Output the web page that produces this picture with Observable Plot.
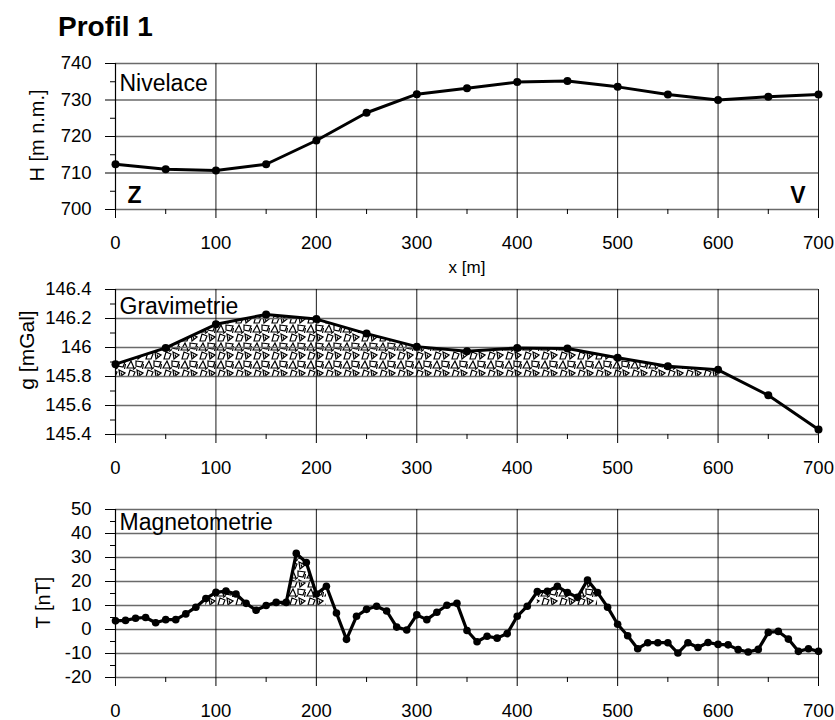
<!DOCTYPE html>
<html>
<head>
<meta charset="utf-8">
<script src="https://cdn.jsdelivr.net/npm/d3@7"></script>
<script src="https://cdn.jsdelivr.net/npm/@observablehq/plot@0.6"></script>
<style>
  html, body { margin: 0; padding: 0; background: #fff; }
  #chart { position: relative; width: 835px; height: 720px; background: #fff; font-family: "Liberation Sans", Arial, sans-serif; overflow: hidden; }
  #title { position: absolute; left: 58px; top: 13px; font-size: 28px; line-height: 28px; font-weight: bold; color: #000; }
  .panel { position: absolute; left: 0; }
</style>
</head>
<body>
<div id="chart"><div id="title">Profil 1</div></div>
<script>
// ---------- data ----------
const title = "Profil 1";

const xTicks = [0, 100, 200, 300, 400, 500, 600, 700];
const xMinorTicks = [50, 150, 250, 350, 450, 550, 650];

// Nivelace (height, m n.m.)
const nivX = [0, 50, 100, 150, 200, 250, 300, 350, 400, 450, 500, 550, 600, 650, 700];
const nivH = [712.4, 711.0, 710.7, 712.4, 718.9, 726.5, 731.6, 733.2, 734.9, 735.2, 733.6, 731.5, 730.0, 730.9, 731.5];
const nivYTicks = [700, 710, 720, 730, 740];
const nivYMinor = [705, 715, 725, 735];

// Gravimetrie (g, mGal)
const gravX = [0, 50, 100, 150, 200, 250, 300, 350, 400, 450, 500, 550, 600, 650, 700];
const gravG = [145.885, 145.997, 146.16, 146.228, 146.196, 146.096, 146.006, 145.974, 145.997, 145.993, 145.929, 145.871, 145.846, 145.67, 145.434];
const gravYTicks = [145.4, 145.6, 145.8, 146.0, 146.2, 146.4];
const gravYMinor = [145.5, 145.7, 145.9, 146.1, 146.3];
const gravYTickLabels = ["145.4", "145.6", "145.8", "146", "146.2", "146.4"];
const gravFillBase = 145.8;
const gravFillRange = [0, 600];

// Magnetometrie (T, nT)
const magX = d3.range(0, 701, 10);
const magT = [
  3.6, 3.8, 4.7, 5.0, 2.8, 4.1, 4.1, 6.5, 9.3, 12.9,
  15.5, 16.0, 14.8, 10.9, 8.0, 10.0, 11.3, 11.3, 31.7, 27.9,
  14.8, 18.0, 6.9, -4.1, 5.5, 8.4, 9.7, 7.7, 1.0, -0.2,
  6.1, 4.1, 7.2, 10.1, 10.9, -0.4, -5.1, -2.8, -3.6, -1.7,
  5.5, 9.7, 15.8, 15.9, 18.0, 15.4, 13.4, 20.6, 15.4, 9.3,
  2.2, -2.6, -8.0, -5.5, -5.5, -5.5, -9.8, -5.5, -7.5, -5.4,
  -6.2, -6.4, -8.4, -9.4, -8.3, -1.2, -0.8, -4.0, -9.1, -8.0,
  -9.1
];
const magYTicks = [-20, -10, 0, 10, 20, 30, 40, 50];
const magYMinor = [-15, -5, 5, 15, 25, 35, 45];
const magFillBase = 10;
const magFillRanges = [[90, 130], [160, 210], [420, 480]];

// ---------- helpers ----------
const FONT = '"Liberation Sans", Arial, sans-serif';
const W = 835, ML = 115, MR = 17;

function patternDefs(id) {
  return `<defs><pattern id="${id}" width="18" height="18" patternUnits="userSpaceOnUse">
    <rect width="18" height="18" fill="#fff"/>
    <g fill="none" stroke="#000" stroke-width="1.2" stroke-linejoin="miter">
      <path d="M1,8 L5,1 L8,8 Z"/>
      <path d="M10,1 L17,2 L15,7 L10,6 Z"/>
      <path d="M2,17 L4,10 L9,12 L7,17 Z"/>
      <path d="M11,10 L17,13 L12,17 Z"/>
      <path d="M7,9.5 L10,7.5"/>
      <path d="M16.5,9 L17.5,4"/>
      <path d="M13,12.5 L14,15"/>
    </g></pattern></defs>`;
}

function basicMarks(cfg) {
  return [
    Plot.ruleY(cfg.yTicks, {stroke: "#6a6a6a", strokeWidth: 1.3}),
    Plot.ruleX(xTicks, {stroke: "#000", strokeWidth: 0.9}),
    Plot.axisY({ticks: cfg.yTicks, tickSize: 10, tickPadding: 14, fontSize: 18.5, label: null,
      tickFormat: cfg.yFormat || (d => String(d))}),
    Plot.axisY({ticks: cfg.yMinor, tickSize: 5, tickFormat: () => "", label: null}),
    Plot.axisX({ticks: xTicks, tickSize: 9, tickPadding: 17, fontSize: 18.5, label: null, tickFormat: d => String(d)}),
    Plot.axisX({ticks: xMinorTicks, tickSize: 5, tickFormat: () => "", label: null}),
    Plot.ruleX([0], {stroke: "#000", strokeWidth: 1.2}),
    Plot.text([cfg.yLabel], {frameAnchor: "left", rotate: -90, dx: cfg.yLabelDx, dy: cfg.yLabelDy || 0,
      textAnchor: "middle", lineAnchor: "middle", fontSize: cfg.yLabelSize || 20}),
    Plot.text([cfg.name], {frameAnchor: "top-left", dx: 4, dy: cfg.nameDy, textAnchor: "start",
      lineAnchor: "bottom", fontSize: 23})
  ];
}

function addPanel(top, plot, patId) {
  plot.classList.add("panel");
  plot.style.top = top + "px";
  if (patId) plot.insertAdjacentHTML("afterbegin", patternDefs(patId));
  document.getElementById("chart").appendChild(plot);
}

const style = {fontFamily: FONT, fontSize: "18.5px", color: "#000", background: "transparent", overflow: "visible"};

// ---------- Panel 1: Nivelace ----------
const nivData = nivX.map((x, i) => ({x, v: nivH[i]}));
const p1 = Plot.plot({
  width: W, height: 239, marginLeft: ML, marginRight: MR, marginTop: 23, marginBottom: 70,
  style,
  x: {domain: [0, 700]},
  y: {domain: [700, 740]},
  marks: [
    ...basicMarks({yTicks: nivYTicks, yMinor: nivYMinor, yLabel: "H [m n.m.]", yLabelDx: -78, yLabelDy: -1,
      name: "Nivelace", nameDy: 27}),
    Plot.line(nivData, {x: "x", y: "v", stroke: "#000", strokeWidth: 3}),
    Plot.dot(nivData, {x: "x", y: "v", r: 4, fill: "#000"}),
    Plot.text(["Z"], {frameAnchor: "bottom-left", dx: 12, dy: -6.5, textAnchor: "start", lineAnchor: "bottom",
      fontSize: 23, fontWeight: "bold"}),
    Plot.text(["V"], {frameAnchor: "bottom-right", dx: -13, dy: -6.5, textAnchor: "end", lineAnchor: "bottom",
      fontSize: 23, fontWeight: "bold"}),
    Plot.text(["x [m]"], {frameAnchor: "bottom", dy: 58, lineAnchor: "middle", fontSize: 17})
  ]
});
addPanel(40, p1, null);

// ---------- Panel 2: Gravimetrie ----------
const gravData = gravX.map((x, i) => ({x, v: gravG[i]}));
const gravFill = gravData.filter(d => d.x >= gravFillRange[0] && d.x <= gravFillRange[1]);
const p2 = Plot.plot({
  width: W, height: 209, marginLeft: ML, marginRight: MR, marginTop: 19, marginBottom: 45,
  style,
  x: {domain: [0, 700]},
  y: {domain: [145.4, 146.4]},
  marks: [
    Plot.areaY(gravFill, {x: "x", y1: gravFillBase, y2: "v", fill: "url(#texG)"}),
    ...basicMarks({yTicks: gravYTicks, yMinor: gravYMinor, yLabel: "g [mGal]", yLabelDx: -88, yLabelDy: -12,
      yLabelSize: 21, yFormat: d => gravYTickLabels[gravYTicks.indexOf(d)] ?? String(d),
      name: "Gravimetrie", nameDy: 24}),
    Plot.line(gravData, {x: "x", y: "v", stroke: "#000", strokeWidth: 3}),
    Plot.dot(gravData, {x: "x", y: "v", r: 4, fill: "#000"})
  ]
});
addPanel(270, p2, "texG");

// ---------- Panel 3: Magnetometrie ----------
const magData = magX.map((x, i) => ({x, v: magT[i]}));
const inFill = x => magFillRanges.some(([a, b]) => x >= a && x <= b);
const p3 = Plot.plot({
  width: W, height: 240, marginLeft: ML, marginRight: MR, marginTop: 29, marginBottom: 43,
  style,
  x: {domain: [0, 700]},
  y: {domain: [-20, 50]},
  marks: [
    Plot.areaY(magData, {x: "x", y1: magFillBase, y2: d => inFill(d.x) ? d.v : NaN, fill: "url(#texM)"}),
    ...basicMarks({yTicks: magYTicks, yMinor: magYMinor, yLabel: "T [nT]", yLabelDx: -72, yLabelDy: 9,
      name: "Magnetometrie", nameDy: 20}),
    Plot.line(magData, {x: "x", y: "v", stroke: "#000", strokeWidth: 3.2}),
    Plot.dot(magData, {x: "x", y: "v", r: 3.8, fill: "#000"})
  ]
});
addPanel(480, p3, "texM");
</script>
</body>
</html>
